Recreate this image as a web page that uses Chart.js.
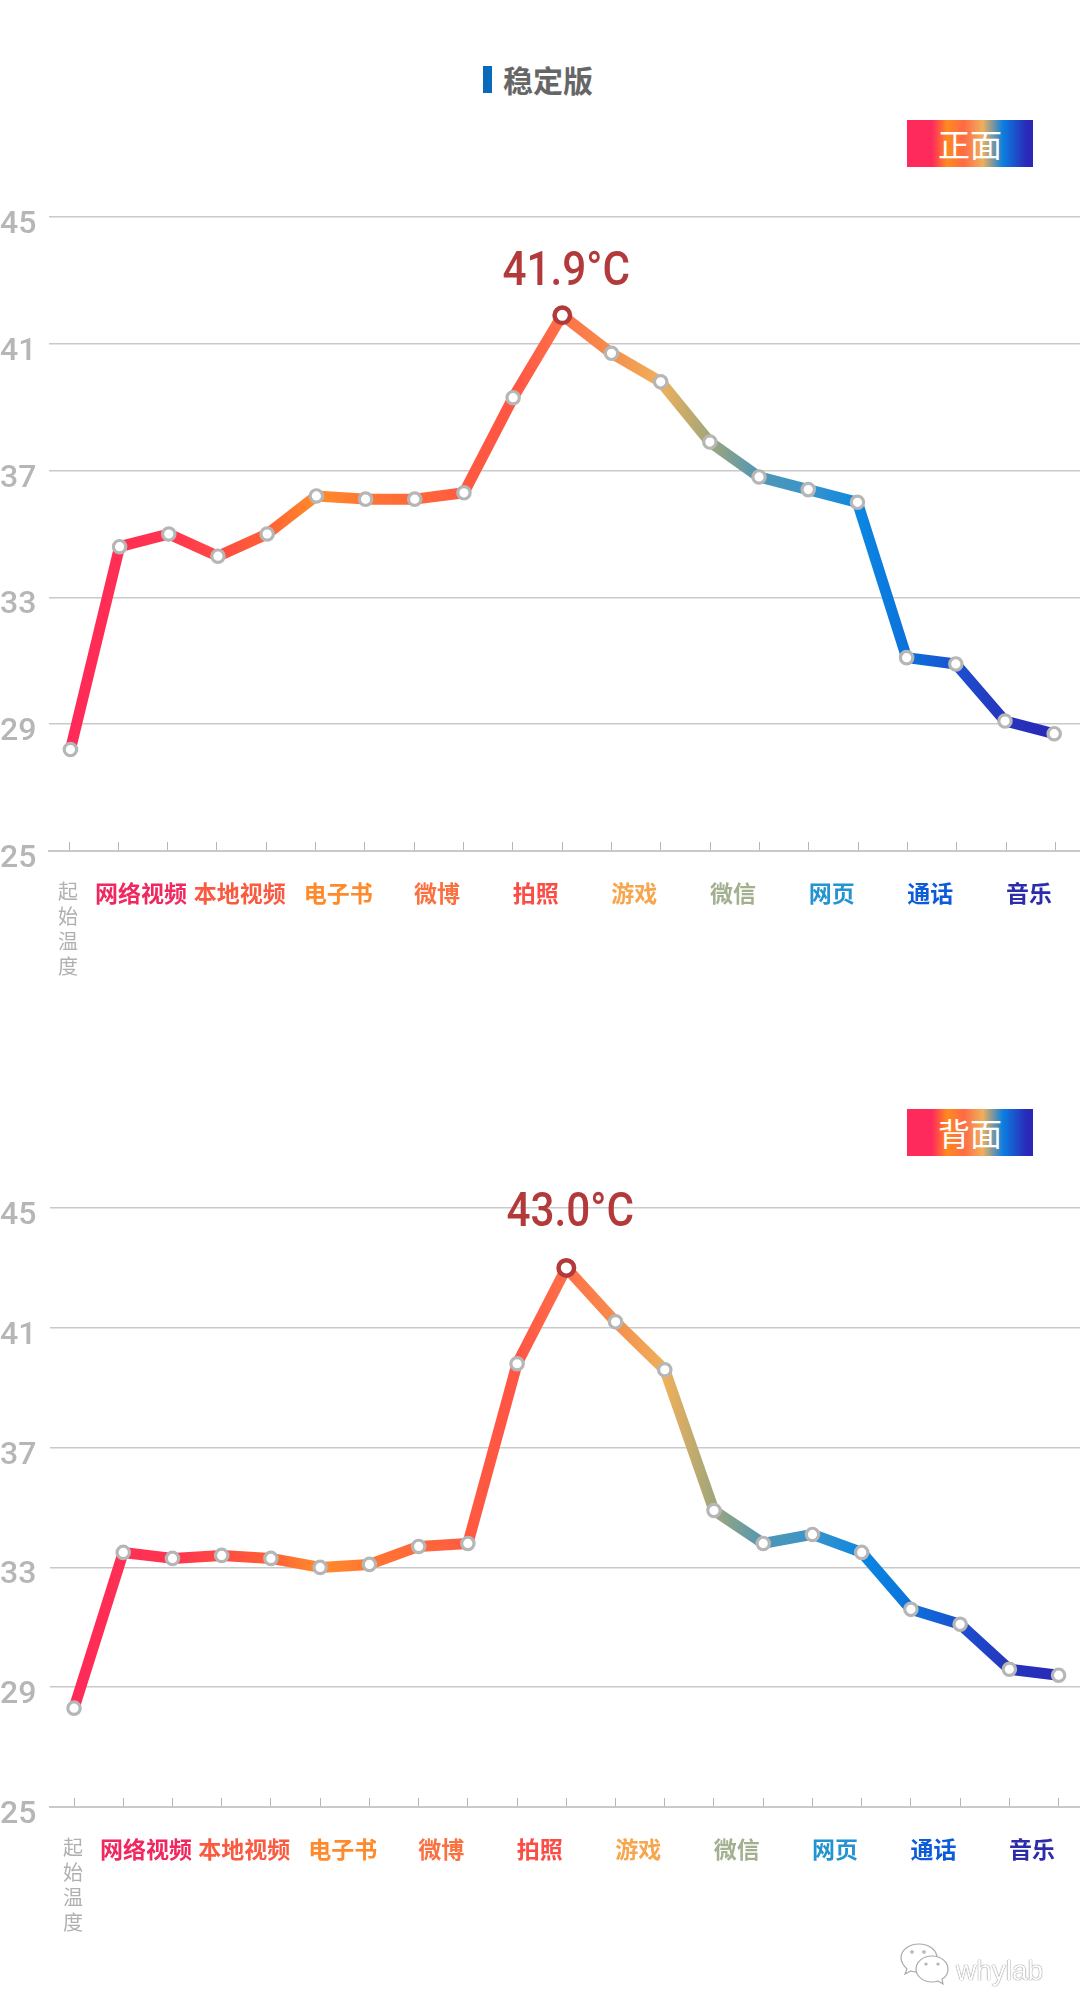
<!DOCTYPE html>
<html lang="zh">
<head>
<meta charset="utf-8">
<title>稳定版</title>
<script src="https://cdn.jsdelivr.net/npm/chart.js@4"></script>
<style>
  html, body { margin: 0; background: #fff; }
  body { position: relative; width: 1080px; height: 2015px; overflow: hidden; font-family: "Noto Sans CJK SC", sans-serif; }
  canvas { position: absolute; left: 0; }
  .title-bar { position: absolute; left: 483px; top: 66px; width: 9px; height: 27px; background: #0a69b8; }
  .title { position: absolute; left: 503px; top: 57px; font-size: 30px; line-height: 44px; font-weight: 700; color: #666; }
  .badge {
    position: absolute; left: 907px; width: 126px; height: 47px; line-height: 46px; text-align: center;
    font-size: 32px; color: #fff;
    background: linear-gradient(90deg, #ff2a5c 0%, #ff2a5c 20%, #ff8a20 32%, #ff6a45 45%, #efb05a 60%, #0c7fe0 76%, #2a28b8 95%);
  }
  .mark { position: absolute; left: 956px; top: 1955px; font: 28px "Liberation Sans", sans-serif; color: #fff; text-shadow: 0 0 1px #777, 0 0 1px #777; line-height: 32px; }
  svg { position: absolute; left: 900px; top: 1943px; }
</style>
</head>
<body>
<div class="title-bar"></div>
<div class="title">稳定版</div>
<div class="badge" style="top:120px">正面</div>
<div class="badge" style="top:1109px">背面</div>
<!-- wider than the page: Chart.js keeps about 9.4px free on the right for the last point -->
<canvas id="front-canvas" width="1090" height="800" style="top:190px"></canvas>
<canvas id="back-canvas" width="1090" height="800" style="top:1180px"></canvas>
<svg width="50" height="42" viewBox="0 0 50 42" fill="#fff" stroke="#aaa" stroke-width="1.2">
  <path d="M19 1C9 1 1 7 1 15c0 5 3 8 6 11l-2 5 6-3c2 1 5 1 8 1 10 0 18-6 18-14S29 1 19 1z"/>
  <path d="M32 13c-9 0-16 6-16 13s7 13 16 13c2 0 4 0 6-1l5 3-1-5c4-2 6-6 6-10 0-7-7-13-16-13z"/>
  <circle cx="12" cy="9" r="1.2"/><circle cx="24" cy="9" r="1.2"/>
  <circle cx="26" cy="21" r="1"/><circle cx="38" cy="21" r="1"/>
</svg>
<div class="mark">whylab</div>

<script>
const index_labels = [-0.02, 1.46, 3.46, 5.46, 7.46, 9.46, 11.46, 13.46, 15.46, 17.46, 19.46];
const category_names = [
  ["起", "始", "温", "度"],
  "网络视频", "本地视频", "电子书", "微博", "拍照", "游戏", "微信", "网页", "通话", "音乐",
];
const category_colors = [
  "#b0b0b0", "#f0285f", "#fa5a40", "#ff8a2c", "#fb7040", "#fb4d45",
  "#f7a64e", "#a2b090", "#2494d0", "#0c5bd8", "#2c2cab",
];
const y_ticks = [25, 29, 33, 37, 41, 45];

const front_values = [
  28.2, 34.6, 35.0, 34.3, 35.0, 36.2, 36.1, 36.1, 36.3, 39.3, 41.9,
  40.7, 39.8, 37.9, 36.8, 36.4, 36.0, 31.1, 30.9, 29.1, 28.7,
];
const back_values = [
  28.3, 33.5, 33.3, 33.4, 33.3, 33.0, 33.1, 33.7, 33.8, 39.8, 43.0,
  41.2, 39.6, 34.9, 33.8, 34.1, 33.5, 31.6, 31.1, 29.6, 29.4,
];
const front_peak = "41.9°C";
const back_peak = "43.0°C";

// colour of the line at each point index
const line_stops = [
  [0, "#ff2a58"], [2, "#ff3450"], [4, "#ff6035"], [5, "#ff8c2a"], [6, "#ff7633"],
  [8, "#ff5a40"], [9, "#ff5545"], [10, "#ff7048"], [11, "#f58e4d"], [12, "#efb05a"],
  [13, "#a0a67c"], [14, "#4f97b4"], [15, "#3a94c8"], [16, "#0b87e2"], [17, "#0b72da"],
  [18, "#1c50d0"], [19, "#2535bc"], [20, "#2a28b8"],
];

const GRID_COLOR = "#c9c9c9";
const POINT_COLOR = "#b6b6b6";
const PEAK_COLOR = "#b23a3a";

const lineGradient = (chart) => {
  const x_scale = chart.scales.points;
  const from = x_scale ? x_scale.getPixelForValue(0) : NaN;
  const to = x_scale ? x_scale.getPixelForValue(20) : NaN;
  // scales are not laid out yet on the very first pass
  if (!Number.isFinite(from) || !Number.isFinite(to)) return line_stops[0][1];
  const gradient = chart.ctx.createLinearGradient(from, 0, to, 0);
  line_stops.forEach(([i, color]) => gradient.addColorStop(i / 20, color));
  return gradient;
};

const peakLabel = {
  id: "peakLabel",
  afterDatasetsDraw(chart, args, opts) {
    const values = chart.data.datasets[0].data.map(({ y }) => y);
    const peak = values.indexOf(Math.max(...values));
    const { ctx, scales } = chart;
    ctx.save();
    // the original face is narrower than Roboto
    ctx.translate(scales.points.getPixelForValue(peak) + 4, scales.y.getPixelForValue(values[peak]) - opts.lift);
    ctx.scale(0.88, 1);
    ctx.font = '500 48px Roboto, sans-serif';
    ctx.fillStyle = PEAK_COLOR;
    ctx.textAlign = "center";
    ctx.textBaseline = "middle";
    ctx.fillText(opts.text, 0, 0);
    ctx.restore();
  },
};

const isLabelTick = (ctx) => ctx.tick && index_labels.includes(ctx.tick.value);

const generateChart = (canvas_id, values, panel) => {
  const peak = values.indexOf(Math.max(...values));
  new Chart(document.getElementById(canvas_id), {
    type: "line",
    plugins: [peakLabel],
    data: {
      datasets: [
        {
          data: values.map((y, x) => ({ x, y })),
          xAxisID: "points",
          borderColor: (ctx) => lineGradient(ctx.chart),
          borderWidth: 11,
          borderJoinStyle: "round",
          borderCapStyle: "round",
          tension: 0,
          clip: false,
          pointRadius: values.map((v, i) => (i === peak ? 7.75 : 6.2)),
          pointBorderWidth: values.map((v, i) => (i === peak ? 4.5 : 3.2)),
          pointBackgroundColor: "#fff",
          pointBorderColor: values.map((v, i) => (i === peak ? PEAK_COLOR : POINT_COLOR)),
        },
      ],
    },
    options: {
      responsive: false,
      animation: false,
      layout: { padding: { top: panel.pad_top } },
      plugins: {
        legend: { display: false },
        tooltip: { enabled: false },
        peakLabel: { text: panel.peak, lift: panel.lift },
      },
      scales: {
        points: {
          type: "linear",
          axis: "x",
          display: false,
          min: panel.point_range[0],
          max: panel.point_range[1],
        },
        marks: {
          type: "linear",
          axis: "x",
          position: "bottom",
          min: panel.mark_range[0],
          max: panel.mark_range[1],
          afterBuildTicks: (scale) => {
            // mark 0 goes last, so the tall tick padding does not pull in the right edge
            const marks = Array.from({ length: 21 }, (v, i) => 20 - i);
            scale.ticks = [...index_labels, ...marks].map((value) => ({ value }));
          },
          afterFit: (scale) => {
            scale.height = panel.axis_height;
          },
          border: { color: GRID_COLOR, width: 2 },
          grid: {
            drawOnChartArea: false,
            tickLength: -9,
            tickWidth: 1,
            tickColor: (ctx) => (isLabelTick(ctx) ? "rgba(0,0,0,0)" : "#b5b5b5"),
          },
          ticks: {
            autoSkip: false,
            maxRotation: 0,
            padding: 37,
            callback: (value) => {
              const at = index_labels.indexOf(value);
              return at < 0 ? "" : category_names[at];
            },
            color: (ctx) =>
              isLabelTick(ctx) ? category_colors[index_labels.indexOf(ctx.tick.value)] : "#fff",
            font: (ctx) =>
              ctx.tick && ctx.tick.value < 1
                ? { family: '"Noto Sans CJK SC"', size: 20, lineHeight: 1.25 }
                : { family: '"Noto Sans CJK SC"', size: 23, weight: "bold", lineHeight: 1.25 },
          },
        },
        y: {
          min: 25,
          max: 45,
          afterBuildTicks: (scale) => {
            scale.ticks = y_ticks.map((value) => ({ value }));
          },
          afterFit: (scale) => {
            scale.width = panel.axis_width;
          },
          border: { display: false },
          grid: { color: GRID_COLOR, lineWidth: 1.5, drawTicks: false },
          ticks: {
            crossAlign: "far",
            labelOffset: 8,
            color: "#b6b6b6",
            font: { family: "Roboto", size: 32, weight: "500" },
          },
        },
      },
    },
  });
};

generateChart("front-canvas", front_values, {
  peak: front_peak,
  lift: 42,
  pad_top: 27,
  axis_height: 139,
  axis_width: 49,
  point_range: [-0.4353, 20.537],
  mark_range: [-0.4057, 20.507],
});
generateChart("back-canvas", back_values, {
  peak: back_peak,
  lift: 54,
  pad_top: 28,
  axis_height: 173,
  axis_width: 50,
  point_range: [-0.488, 20.447],
  mark_range: [-0.488, 20.447],
});
</script>
</body>
</html>
